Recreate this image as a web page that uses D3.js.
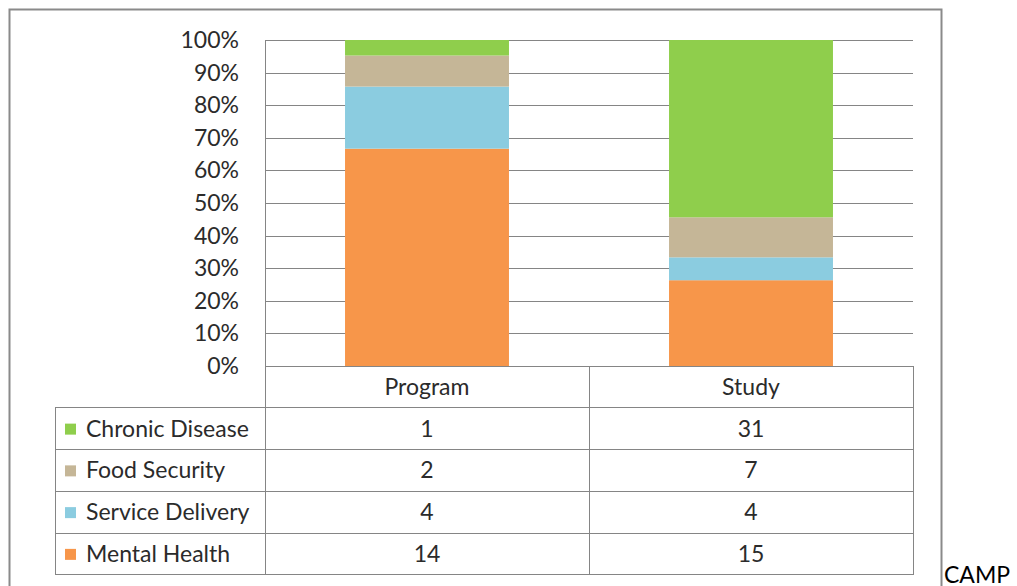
<!DOCTYPE html>
<html>
<head>
<meta charset="utf-8">
<script src="https://cdn.jsdelivr.net/npm/d3@7"></script>
<style>
  html, body { margin:0; padding:0; background:#fff; }
  svg { display:block; font-family: Lato, "Open Sans", sans-serif; }
</style>
</head>
<body>
<svg id="chart" width="1017" height="586"></svg>
<script>
'use strict';
// data
const categories = ['Program', 'Study'];
const seriesNames = ['Chronic Disease', 'Food Security', 'Service Delivery', 'Mental Health'];
const chronicDisease = [1, 31];
const foodSecurity = [2, 7];
const serviceDelivery = [4, 4];
const mentalHealth = [14, 15];
const seriesColors = ['#8fce4c', '#c5b697', '#8bcce0', '#f7964a'];
const yTicks = [0, 0.1, 0.2, 0.3, 0.4, 0.5, 0.6, 0.7, 0.8, 0.9, 1];

const valuesBySeries = {
  'Chronic Disease': chronicDisease,
  'Food Security': foodSecurity,
  'Service Delivery': serviceDelivery,
  'Mental Health': mentalHealth
};
const rows = categories.map((c, i) => {
  const r = { category: c };
  seriesNames.forEach(s => { r[s] = valuesBySeries[s][i]; });
  return r;
});

const svg = d3.select('#chart');
const plotL = 265, plotR = 913, plotT = 40, plotB = 366;
const tableL = 55, rowH = 41.75, tableB = plotB + rowH * 5;
const lineCol = '#858585', textCol = '#2b2b2b';
const fs = '23px';

// outer frame
svg.append('rect').attr('x', 9.5).attr('y', 9.5).attr('width', 932).attr('height', 600)
  .attr('fill', 'none').attr('stroke', '#8a8a8a').attr('stroke-width', 2);

const x = d3.scaleBand().domain(categories).range([plotL, plotR]).paddingInner(0.494).paddingOuter(0.247);
const col = d3.scaleBand().domain(categories).range([plotL, plotR]).padding(0);
const y = d3.scaleLinear().domain([0, 1]).range([plotB, plotT]);

// gridlines
svg.append('g').selectAll('line').data(yTicks).join('line')
  .attr('x1', plotL).attr('x2', plotR)
  .attr('y1', d => Math.round(y(d)) + 0.5).attr('y2', d => Math.round(y(d)) + 0.5)
  .attr('stroke', lineCol).attr('stroke-width', 1);

// tick labels
svg.append('g').selectAll('text').data(yTicks).join('text')
  .attr('x', 239).attr('y', d => y(d) + 8)
  .attr('text-anchor', 'end').attr('fill', textCol).style('font-size', fs)
  .text(d3.format('.0%'));

// stacked bars (bottom-up: Mental Health first)
const stackKeys = seriesNames.slice().reverse();
const stacked = d3.stack().keys(stackKeys).offset(d3.stackOffsetExpand)(rows);
const color = d3.scaleOrdinal().domain(seriesNames).range(seriesColors);
svg.append('g').selectAll('g').data(stacked).join('g')
  .attr('fill', d => color(d.key))
  .selectAll('rect').data(d => d).join('rect')
  .attr('x', d => x(d.data.category))
  .attr('width', x.bandwidth())
  .attr('y', d => y(d[1]))
  .attr('height', d => y(d[0]) - y(d[1]));

// data table
const tbl = svg.append('g').attr('stroke', lineCol).attr('stroke-width', 1).attr('shape-rendering', 'crispEdges');
tbl.append('line').attr('x1', plotL).attr('x2', plotL).attr('y1', plotT).attr('y2', tableB);
tbl.append('line').attr('x1', plotR).attr('x2', plotR).attr('y1', plotB).attr('y2', tableB);
tbl.append('line').attr('x1', tableL).attr('x2', tableL).attr('y1', plotB + rowH).attr('y2', tableB);
tbl.selectAll('line.col').data(categories.slice(1)).join('line').attr('class', 'col')
  .attr('x1', d => col(d)).attr('x2', d => col(d)).attr('y1', plotB).attr('y2', tableB);
tbl.selectAll('line.row').data(d3.range(1, 6)).join('line').attr('class', 'row')
  .attr('x1', tableL).attr('x2', plotR)
  .attr('y1', i => plotB + rowH * i).attr('y2', i => plotB + rowH * i);

// category header
svg.append('g').selectAll('text').data(categories).join('text')
  .attr('x', d => col(d) + col.bandwidth() / 2).attr('y', plotB + rowH / 2 + 8)
  .attr('text-anchor', 'middle').attr('fill', textCol).style('font-size', fs)
  .text(d => d);

// series rows
const rowG = svg.append('g').selectAll('g').data(seriesNames).join('g')
  .attr('transform', (d, i) => `translate(0,${plotB + rowH * (i + 1)})`);
rowG.append('rect').attr('x', 65).attr('y', rowH / 2 - 5).attr('width', 11).attr('height', 11)
  .attr('fill', d => color(d));
rowG.append('text').attr('x', 86).attr('y', rowH / 2 + 8)
  .attr('fill', textCol).style('font-size', fs).text(d => d);
rowG.selectAll('text.val').data(s => categories.map((c, i) => ({ c, v: valuesBySeries[s][i] }))).join('text')
  .attr('class', 'val')
  .attr('x', d => col(d.c) + col.bandwidth() / 2).attr('y', rowH / 2 + 8)
  .attr('text-anchor', 'middle').attr('fill', textCol).style('font-size', fs)
  .text(d => d.v);

// text after the chart
svg.append('text').attr('x', 944).attr('y', 583).attr('fill', '#000').style('font-size', '23px').text('CAMP');
</script>
</body>
</html>
